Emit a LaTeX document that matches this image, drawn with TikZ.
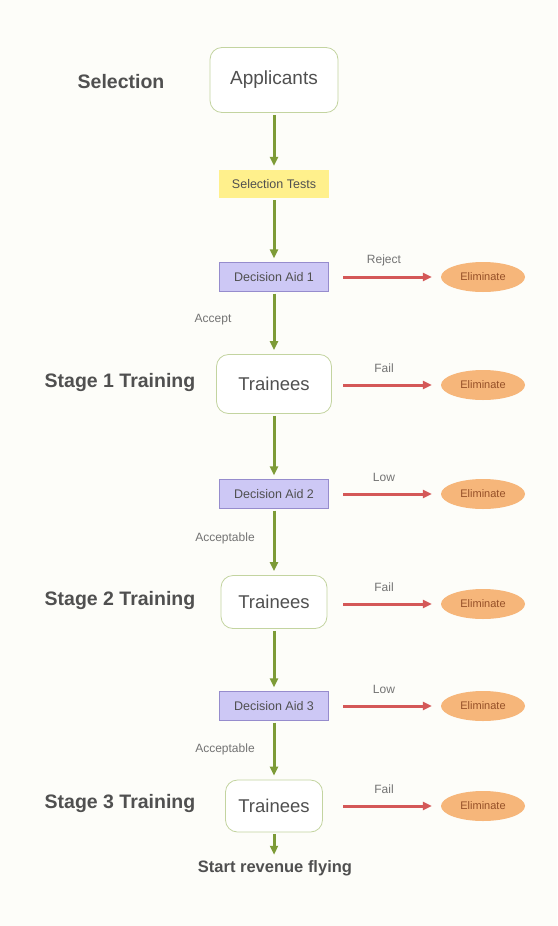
\documentclass[tikz,border=0pt]{standalone}
\usepackage{fontspec}
\setmainfont{Liberation Sans}
\usetikzlibrary{shapes.geometric,arrows.meta}

\definecolor{pagefill}{RGB}{253,253,249}
\definecolor{flowgreen}{RGB}{125,155,55}
\definecolor{boxedge}{RGB}{195,212,160}
\definecolor{testfill}{RGB}{255,240,140}
\definecolor{aidfill}{RGB}{205,200,245}
\definecolor{aidedge}{RGB}{150,140,205}
\definecolor{rejectred}{RGB}{212,88,88}
\definecolor{elimfill}{RGB}{246,182,122}
\definecolor{elimtext}{RGB}{150,80,40}
\definecolor{inkgray}{RGB}{80,80,80}
\definecolor{softgray}{RGB}{115,115,115}

\tikzset{
    stagebox/.style={draw=boxedge, thick, rounded corners=12pt, fill=white, text=inkgray, font=\fontsize{18.5}{20}\selectfont},
    testbox/.style={fill=testfill, minimum width=110pt, minimum height=28pt, text=inkgray, font=\fontsize{12.5}{14}\selectfont},
    aidbox/.style={draw=aidedge, fill=aidfill, minimum width=109pt, minimum height=29pt, text=inkgray, font=\fontsize{12.5}{14}\selectfont},
    elim/.style={ellipse, fill=elimfill, minimum width=84pt, minimum height=30pt, inner sep=0pt, text=elimtext, font=\fontsize{11}{13}\selectfont},
    stagelabel/.style={text=inkgray, font=\bfseries\fontsize{19.5}{22}\selectfont},
    smalllabel/.style={text=softgray, font=\fontsize{12}{14}\selectfont},
    flow/.style={flowgreen, line width=3pt, -{Triangle[length=9pt,width=8pt]}, shorten <=2pt, shorten >=4pt},
    failarrow/.style={rejectred, line width=3pt, -{Triangle[length=9pt,width=8pt]}, shorten >=9pt}
}

\begin{document}
\begin{tikzpicture}[x=1pt,y=-1pt]
    % Fond
    \fill[pagefill] (0,0) rectangle (557,926);

    % Colonne centrale
    \node[stagebox, minimum width=128pt, minimum height=65pt, font=\fontsize{19}{21}\selectfont] (app) at (274,80) {Applicants};
    \node[testbox] (tests) at (274,184) {Selection Tests};
    \node[aidbox] (aid1) at (274,277) {Decision Aid 1};
    \node[stagebox, minimum width=115pt, minimum height=59pt] (tr1) at (274,384) {Trainees};
    \node[aidbox] (aid2) at (274,494) {Decision Aid 2};
    \node[stagebox, minimum width=106pt, minimum height=53pt] (tr2) at (274,602) {Trainees};
    \node[aidbox] (aid3) at (274,706) {Decision Aid 3};
    \node[stagebox, minimum width=97pt, minimum height=52pt] (tr3) at (274,806) {Trainees};
    \node[text=inkgray, font=\bfseries\fontsize{16.5}{19}\selectfont] (fly) at (275,868) {Start revenue flying};

    % Etapes a gauche
    \node[stagelabel] (sel) at (121,82) {Selection};
    \node[stagelabel] (st1) at (120,382) {Stage 1 Training};
    \node[stagelabel] (st2) at (120,600) {Stage 2 Training};
    \node[stagelabel] (st3) at (120,803) {Stage 3 Training};

    % Fleches vertes
    \draw[flow] (app) -- (tests);
    \draw[flow] (tests) -- (aid1);
    \draw[flow] (aid1) -- (tr1);
    \draw[flow] (tr1) -- (aid2);
    \draw[flow] (aid2) -- (tr2);
    \draw[flow] (tr2) -- (aid3);
    \draw[flow] (aid3) -- (tr3);
    \draw[flow, shorten >=2pt] (tr3.south) -- (tr3.south |- fly.north);
    \node[smalllabel] (acc1) at (213,320) {Accept};
    \node[smalllabel] (acc2) at (225,538) {Acceptable};
    \node[smalllabel] (acc3) at (225,749) {Acceptable};

    % Eliminations
    \foreach \word/\yy [count=\i] in {Reject/277, Fail/385, Low/494, Fail/604, Low/706, Fail/806} {
        \node[elim] (elim\i) at (483,\yy) {Eliminate};
        \coordinate (out\i) at (343,\yy);
        \draw[failarrow] (out\i) -- (elim\i);
        \node[smalllabel] (why\i) at (384,\yy-17) {\word};
    }
\end{tikzpicture}
\end{document}
